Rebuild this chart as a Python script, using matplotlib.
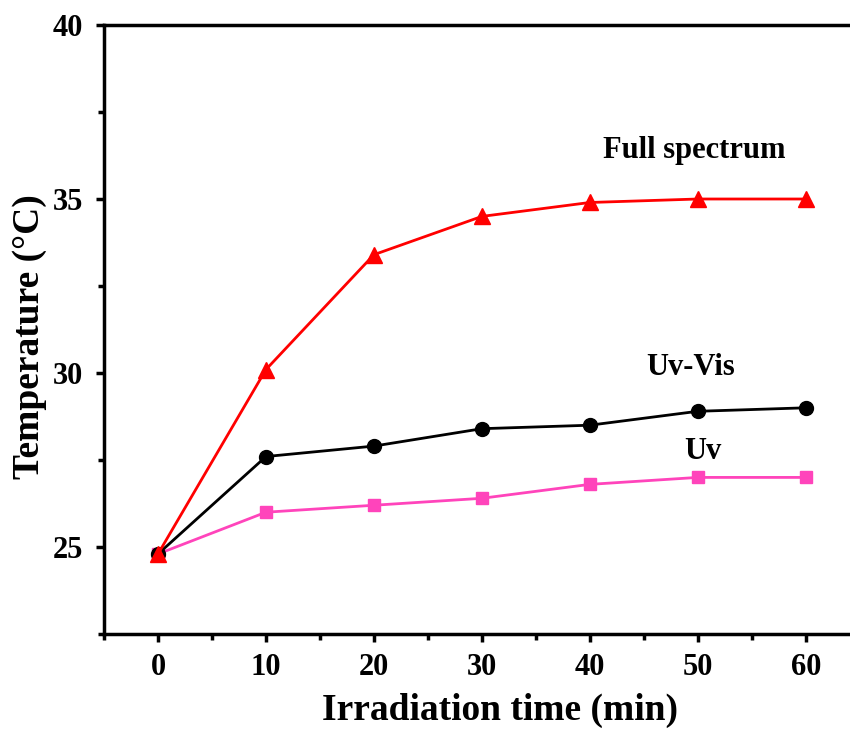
import matplotlib
matplotlib.use("Agg")
import matplotlib.pyplot as plt
from matplotlib.ticker import MultipleLocator

plt.rcParams.update({"font.family": "Liberation Serif", "font.weight": "bold"})

time_min = [0, 10, 20, 30, 40, 50, 60]
full_spectrum = [24.8, 30.1, 33.4, 34.5, 34.9, 35.0, 35.0]
uv_vis = [24.8, 27.6, 27.9, 28.4, 28.5, 28.9, 29.0]
uv = [24.8, 26.0, 26.2, 26.4, 26.8, 27.0, 27.0]

fig = plt.figure(figsize=(8.5, 7.29), dpi=100)
ax = fig.add_axes([0.1224, 0.1303, 0.889, 0.8354])

ax.plot(time_min, uv, color="#FF44BB", lw=2, marker="s", ms=9, zorder=3)
ax.plot(time_min, uv_vis, color="black", lw=2, marker="o", ms=10, zorder=4)
ax.plot(time_min, full_spectrum, color="#FF0000", lw=2, marker="^", ms=11, zorder=5)

ax.text(49.7, 36.4, "Full spectrum", fontsize=22, ha="center", va="center")
ax.text(49.3, 30.15, "Uv-Vis", fontsize=22, ha="center", va="center")
ax.text(50.5, 27.75, "Uv", fontsize=22, ha="center", va="center")

ax.set_xlim(-5, 65)
ax.set_ylim(22.5, 40)
ax.xaxis.set_major_locator(MultipleLocator(10))
ax.xaxis.set_minor_locator(MultipleLocator(5))
ax.yaxis.set_major_locator(MultipleLocator(5))
ax.yaxis.set_minor_locator(MultipleLocator(2.5))
ax.set_yticks([25, 30, 35, 40])

for s in ax.spines.values():
    s.set_linewidth(2.5)
ax.tick_params(which="major", direction="out", length=6, width=2.5, labelsize=22)
ax.tick_params(axis="x", which="major", pad=8)
ax.tick_params(axis="y", which="major", pad=9)
ax.tick_params(which="minor", direction="out", length=4, width=2.5)

ax.set_xlabel("Irradiation time (min)", fontsize=27, fontweight="bold")
ax.set_ylabel("Temperature (\u00b0C)", fontsize=27, fontweight="bold")
ax.xaxis.set_label_coords(0.524, -0.097)
ax.yaxis.set_label_coords(-0.076, 0.488)

fig.savefig("out.png", dpi=100)
